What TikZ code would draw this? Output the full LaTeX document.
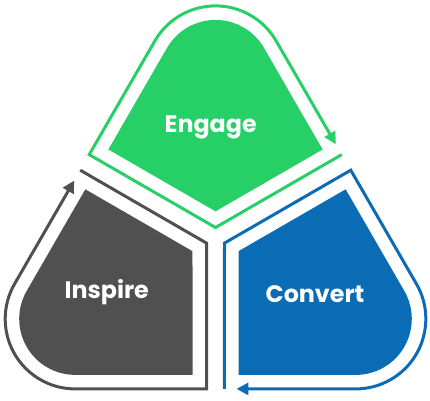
\documentclass[tikz,border=0pt]{standalone}
\usepackage{fontspec}
\usepackage{xcolor}
\usepackage{tikz}
\usetikzlibrary{arrows.meta}
\newfontfamily\rotulo{Poppins}
\definecolor{verdeeng}{RGB}{38,208,102}
\definecolor{grisins}{RGB}{80,80,80}
\definecolor{azulconv}{RGB}{10,108,180}

\begin{document}
\begin{tikzpicture}[x=1pt, y=1pt, line width=3pt,
    >={Triangle[length=12pt,width=12pt]},
    etiqueta/.style={text=white, anchor=base,
      font=\rotulo\bfseries\fontsize{23.8}{28}\selectfont}]
    \useasboundingbox (-215.5,-162.1) rectangle (214.5,237.9);
    % tres piezas iguales giradas 120 grados (centro del triangulo en el origen)
    \foreach \ang/\col in {0/verdeeng, 120/grisins, 240/azulconv} {
      \begin{scope}[rotate=\ang]
        % pieza rellena, vertice exterior redondeado (r=137, hueco 23, radio 56)
        \fill[\col] (0,26.56) -- (-107.15,88.42) -- (-48.5,190)
            arc[start angle=150, end angle=30, radius=56] -- (107.15,88.42) -- cycle;
        % contorno abierto con flecha, 14 por fuera de la pieza
        \draw[\col,->] (126.27,83.29) -- (0,10.39) -- (-126.27,83.29) -- (-60.62,197)
            arc[start angle=150, end angle=30, radius=70] -- (120.27,93.68);
      \end{scope}
    }
    % rotulos
    \node[etiqueta] (engage) at (-4.8,105.4) {Engage};
    \node[etiqueta] (inspire) at (-108.8,-60.4) {Inspire};
    \node[etiqueta] (convert) at (99.5,-64.9) {Convert};
\end{tikzpicture}
\end{document}
